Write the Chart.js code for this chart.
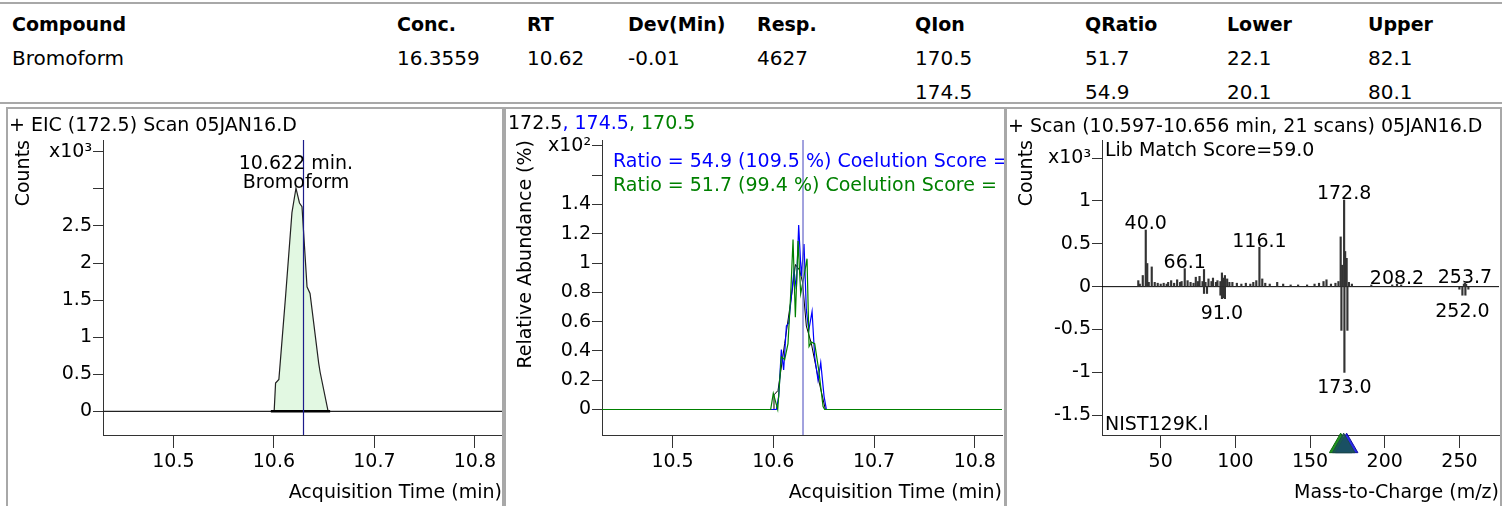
<!DOCTYPE html>
<html>
<head>
<meta charset="utf-8">
<script src="https://cdn.jsdelivr.net/npm/chart.js@4.4.1/dist/chart.umd.min.js"></script>
<style>
body{margin:0;width:1502px;height:506px;overflow:hidden;background:#fff;font-family:'DejaVu Sans',sans-serif;color:#000;position:relative}
.cell{position:absolute;font-size:20px;line-height:24px;white-space:nowrap}
.cell.h{font-weight:bold;font-size:19px}
.rule{position:absolute;left:0;width:1502px;height:2px;background:#a8a8a8}
.panel{position:absolute;top:107px;height:420px;border:2px solid #a8a8a8;border-bottom:none;box-sizing:border-box}
canvas{position:absolute;top:109px}
.ptitle{position:absolute;font-size:19px;line-height:22px;white-space:nowrap;z-index:2}
</style>
</head>
<body>
<div class="rule" style="top:2px"></div>
<div class="rule" style="top:102px"></div>
<div id="table"></div>

<div class="panel" style="left:6px;width:498px"></div>
<div class="panel" style="left:504px;width:502px"></div>
<div class="panel" style="left:1005px;width:497px"></div>

<div class="ptitle" style="left:9px;top:113px">+ EIC (172.5) Scan 05JAN16.D</div>
<div class="ptitle" style="left:508px;top:111px">172.5<span style="color:#0000ff">, 174.5</span><span style="color:#008000">, 170.5</span></div>
<div class="ptitle" style="left:1008px;top:114px">+ Scan (10.597-10.656 min, 21 scans) 05JAN16.D</div>

<canvas id="eic" width="494" height="397" style="left:8px"></canvas>
<canvas id="qual" width="498" height="397" style="left:506px"></canvas>
<canvas id="spec" width="492" height="397" style="left:1008px"></canvas>

<script>
//TABLE
const tableHeaders = ['Compound', 'Conc.', 'RT', 'Dev(Min)', 'Resp.', 'QIon', 'QRatio', 'Lower', 'Upper'];
const tableRow1 = ['Bromoform', '16.3559', '10.62', '-0.01', '4627', '170.5', '51.7', '22.1', '82.1'];
const tableRow2 = ['', '', '', '', '', '174.5', '54.9', '20.1', '80.1'];

//EIC 172.5 (counts x10^3)
const eicTime = [10.43, 10.597, 10.6003, 10.6017, 10.605, 10.6116, 10.618, 10.622, 10.6255, 10.628, 10.633, 10.636, 10.6446, 10.646, 10.654, 10.827];
const eicCounts = [0, 0, 0, 0.38, 0.43, 1.54, 2.68, 3.01, 2.81, 2.76, 1.68, 1.59, 0.65, 0.53, 0, 0];
const integrationStart = 10.597;
const integrationEnd = 10.656;
const rtMarker = 10.6295;
const compoundName = 'Bromoform';
const apexLabel = '10.622 min.';

//QUALIFIER IONS (relative abundance x10^2)
const time172 = [10.43, 10.6, 10.6007, 10.6047, 10.6113, 10.618, 10.622, 10.6262, 10.629, 10.6328, 10.6378, 10.6444, 10.6517, 10.827];
const abund172 = [0, 0, 0.1, 0.13, 0.45, 0.77, 0.99, 0.95, 0.87, 0.57, 0.45, 0.22, 0, 0];
const time174 = [10.43, 10.603, 10.6054, 10.608, 10.6103, 10.613, 10.6153, 10.6179, 10.6206, 10.6229, 10.6252, 10.6278, 10.6305, 10.6328, 10.6352, 10.6385, 10.6411, 10.6444, 10.6471, 10.6504, 10.6527, 10.827];
const abund174 = [0, 0, 0.09, 0.41, 0.27, 0.57, 0.59, 0.77, 0.95, 0.82, 1.26, 0.91, 1.13, 0.68, 0.54, 0.67, 0.36, 0.20, 0.32, 0.09, 0, 0];
const time170 = [10.43, 10.5974, 10.6, 10.6044, 10.608, 10.6113, 10.6146, 10.6173, 10.6196, 10.6219, 10.6246, 10.6272, 10.6305, 10.6335, 10.6355, 10.6378, 10.6411, 10.6451, 10.6494, 10.651, 10.827];
const abund170 = [0, 0, 0.11, 0, 0.36, 0.34, 0.45, 0.79, 1.16, 0.63, 1.15, 0.79, 0.91, 1.03, 0.43, 0.46, 0.45, 0.27, 0.02, 0, 0];
const ratio174 = 'Ratio = 54.9 (109.5 %) Coelution Score = 99.1';
const ratio170 = 'Ratio = 51.7 (99.4 %) Coelution Score = 98.7';

//SPECTRUM (counts x10^3), sample up, library down
const sampleMz = [35, 36, 38, 40, 41, 42, 44, 46, 48, 50, 52, 54, 55, 57, 59, 61, 63, 64, 66.1, 68, 70, 72, 73.5, 75, 76, 78, 79, 80, 82, 84, 85, 87, 88, 90, 91, 92, 93, 94.5, 96, 98, 101, 104, 107, 110, 112, 114, 116.1, 118, 120, 123, 128, 132, 137, 142, 148, 153, 156, 159, 161, 164, 167, 169, 170.5, 171.5, 172.8, 173.5, 174.5, 176, 178, 191, 205, 208.2, 211, 253, 253.7, 254.5];
const sampleCounts = [0.07, 0.03, 0.13, 0.66, 0.27, 0.05, 0.23, 0.05, 0.04, 0.03, 0.04, 0.03, 0.05, 0.07, 0.04, 0.08, 0.05, 0.06, 0.21, 0.07, 0.05, 0.04, 0.11, 0.06, 0.12, 0.06, 0.2, 0.05, 0.09, 0.06, 0.1, 0.05, 0.07, 0.06, 0.16, 0.1, 0.13, 0.09, 0.05, 0.05, 0.04, 0.03, 0.04, 0.03, 0.05, 0.07, 0.46, 0.09, 0.04, 0.03, 0.05, 0.03, 0.02, 0.02, 0.02, 0.03, 0.04, 0.06, 0.08, 0.03, 0.04, 0.06, 0.58, 0.25, 1.01, 0.41, 0.33, 0.05, 0.03, 0.02, 0.02, 0.03, 0.02, 0.03, 0.04, 0.03];
const libraryMz = [79, 81, 90, 91, 92, 93, 171, 173, 175, 250, 252, 254, 256];
const libraryCounts = [-0.08, -0.08, -0.1, -0.14, -0.13, -0.14, -0.51, -1.0, -0.51, -0.03, -0.1, -0.1, -0.03];
const peakLabelMz = [40.0, 66.1, 116.1, 172.8, 208.2, 253.7, 91.0, 173.0, 252.0];
const peakLabelCounts = [0.66, 0.21, 0.46, 1.01, 0.03, 0.04, -0.14, -1.0, -0.12];
const qualIons = [170.5, 174.5, 172.5];
const matchScore = 'Lib Match Score=59.0';
const libraryName = 'NIST129K.l';

//AXES
const timeTicks = [10.5, 10.6, 10.7, 10.8];
const timeTickLabels = ['10.5', '10.6', '10.7', '10.8'];
const eicTicks = [0, 0.5, 1, 1.5, 2, 2.5, 3, 3.5];
const eicTickLabels = ['0', '0.5', '1', '1.5', '2', '2.5', '', 'x10³'];
const qualTicks = [0, 0.2, 0.4, 0.6, 0.8, 1, 1.2, 1.4, 1.6, 1.8];
const qualTickLabels = ['0', '0.2', '0.4', '0.6', '0.8', '1', '1.2', '1.4', '', 'x10²'];
const mzTicks = [50, 100, 150, 200, 250];
const mzTickLabels = ['50', '100', '150', '200', '250'];
const specTicks = [-1.5, -1, -0.5, 0, 0.5, 1, 1.5];
const specTickLabels = ['-1.5', '-1', '-0.5', '0', '0.5', '1', 'x10³'];

Chart.defaults.font.family = "'DejaVu Sans', sans-serif";
Chart.defaults.font.size = 19;
Chart.defaults.color = '#000';
Chart.defaults.animation = false;

//BUILD THE TABLE
function buildTable() {
  const lefts = [12, 397, 527, 628, 757, 915, 1085, 1227, 1368];
  const rows = [[tableHeaders, 12, 'cell h'], [tableRow1, 46, 'cell'], [tableRow2, 80, 'cell']];
  let html = '';
  rows.forEach(([vals, top, cls]) => {
    vals.forEach((v, i) => {
      if (v) html += `<div class="${cls}" style="left:${lefts[i]}px;top:${top}px">${v}</div>`;
    });
  });
  document.getElementById('table').innerHTML = html;
}

function toPoints(xs, ys) {
  return xs.map((x, i) => ({x: x, y: ys[i]}));
}

function xAxis(min, max, ticks, labels, title) {
  return {
    type: 'linear', min: min, max: max, offset: false,
    afterBuildTicks: s => { s.ticks = ticks.map(v => ({value: v})); },
    afterFit: s => { s.height = 71; },
    ticks: {autoSkip: false, maxRotation: 0, padding: 3, callback: (v, i) => labels[i]},
    grid: {drawOnChartArea: false, drawTicks: true, tickLength: 13, color: '#333', offset: false},
    border: {display: true, color: '#333'},
    title: {display: true, text: title, align: 'end', padding: {top: 0, bottom: 2}}
  };
}

function yAxis(min, max, ticks, labels, title, width, titlePad) {
  return {
    type: 'linear', min: min, max: max,
    afterBuildTicks: s => { s.ticks = ticks.map(v => ({value: v})); },
    afterFit: s => { s.width = width; },
    ticks: {autoSkip: false, padding: 1, callback: (v, i) => labels[i]},
    grid: {drawOnChartArea: false, drawTicks: true, tickLength: 10, color: '#333'},
    border: {display: true, color: '#333'},
    title: {display: true, text: title, align: 'end', padding: {top: titlePad, bottom: 0}}
  };
}

const basePlugins = {legend: {display: false}, tooltip: {enabled: false}};
const xMin = 10.43, xMax = 10.827;

//EIC PANEL
function drawEic() {
  const yMin = -0.32, yMax = 3.66;
  const apexIdx = eicCounts.indexOf(Math.max(...eicCounts));
  const label = {
    id: 'eicLabel',
    afterDatasetsDraw(chart) {
      const {ctx, scales: {x, y}} = chart;
      const px = x.getPixelForValue(eicTime[apexIdx]);
      const py = y.getPixelForValue(eicCounts[apexIdx]);
      ctx.save();
      ctx.font = "19px 'DejaVu Sans'";
      ctx.fillStyle = '#000';
      ctx.textAlign = 'center';
      ctx.textBaseline = 'bottom';
      ctx.fillText(compoundName, px, py + 4);
      ctx.fillText(apexLabel, px, py - 15);
      ctx.restore();
    }
  };
  new Chart(document.getElementById('eic'), {
    type: 'line',
    data: {
      datasets: [
        {data: toPoints(eicTime, eicCounts), borderColor: '#222', borderWidth: 1.2, backgroundColor: '#e2f8e2', fill: 'origin', pointRadius: 0, order: 3},
        {data: [{x: integrationStart, y: 0}, {x: integrationEnd, y: 0}], borderColor: '#000', borderWidth: 2.5, pointRadius: 0, order: 2},
        {data: [{x: rtMarker, y: yMin}, {x: rtMarker, y: yMax}], borderColor: '#1c1c8a', borderWidth: 1.2, pointRadius: 0, order: 1}
      ]
    },
    options: {
      responsive: false,
      layout: {padding: {top: 31, left: 0, right: 0, bottom: 0}},
      scales: {
        x: xAxis(xMin, xMax, timeTicks, timeTickLabels, 'Acquisition Time (min)'),
        y: yAxis(yMin, yMax, eicTicks, eicTickLabels, 'Counts', 95, 5)
      },
      plugins: basePlugins
    },
    plugins: [label]
  });
}

//QUALIFIER PANEL
function drawQual() {
  const yMin = -0.174, yMax = 1.84;
  const ratioText = {
    id: 'ratioText',
    afterDatasetsDraw(chart) {
      const {ctx, chartArea} = chart;
      ctx.save();
      ctx.font = "19px 'DejaVu Sans'";
      ctx.textAlign = 'left';
      ctx.textBaseline = 'middle';
      ctx.fillStyle = '#0000ff';
      ctx.fillText(ratio174, chartArea.left + 11, chartArea.top + 22);
      ctx.fillStyle = '#008000';
      ctx.fillText(ratio170, chartArea.left + 11, chartArea.top + 46);
      ctx.restore();
    }
  };
  new Chart(document.getElementById('qual'), {
    type: 'line',
    data: {
      datasets: [
        {data: toPoints(time172, abund172), borderColor: '#000', borderWidth: 1, pointRadius: 0, order: 4},
        {data: toPoints(time174, abund174), borderColor: '#0000ff', borderWidth: 1.2, pointRadius: 0, order: 3},
        {data: toPoints(time170, abund170), borderColor: '#008000', borderWidth: 1.2, pointRadius: 0, order: 2},
        {data: [{x: rtMarker, y: yMin}, {x: rtMarker, y: yMax}], borderColor: '#6464c8', borderWidth: 1.2, pointRadius: 0, order: 1}
      ]
    },
    options: {
      responsive: false,
      layout: {padding: {top: 31, left: 0, right: 2, bottom: 0}},
      scales: {
        x: xAxis(xMin, xMax, timeTicks, timeTickLabels, 'Acquisition Time (min)'),
        y: yAxis(yMin, yMax, qualTicks, qualTickLabels, 'Relative Abundance (%)', 96, 9)
      },
      plugins: basePlugins
    },
    plugins: [ratioText]
  });
}

//SPECTRUM PANEL
function drawSpectrum() {
  const mzMin = 10.7, mzMax = 276.5;
  const yMin = -1.73, yMax = 1.71;
  const texts = {
    id: 'specText',
    afterDatasetsDraw(chart) {
      const {ctx, chartArea, scales: {x, y}} = chart;
      ctx.save();
      ctx.font = "19px 'DejaVu Sans'";
      ctx.fillStyle = '#000';
      ctx.textAlign = 'left';
      ctx.textBaseline = 'middle';
      ctx.fillText(matchScore, chartArea.left + 3, chartArea.top + 11);
      ctx.fillText(libraryName, chartArea.left + 3, chartArea.bottom - 10);
      ctx.textAlign = 'center';
      peakLabelMz.forEach((mz, i) => {
        const v = peakLabelCounts[i];
        const px = x.getPixelForValue(mz);
        const py = y.getPixelForValue(v);
        if (v > 0) {
          ctx.textBaseline = 'bottom';
          ctx.fillText(mz.toFixed(1), px, py + 4);
        } else {
          ctx.textBaseline = 'top';
          ctx.fillText(mz.toFixed(1), px, py + 6);
        }
      });
      ctx.restore();
    }
  };
  const markerColors = ['rgba(20,140,20,0.95)', 'rgba(30,30,235,0.95)', 'rgba(25,85,85,0.9)'];
  const markerBorders = ['#0a6a0a', '#1010a0', '#1a4a4a'];
  new Chart(document.getElementById('spec'), {
    type: 'bar',
    data: {
      datasets: [
        {type: 'line', data: [{x: mzMin, y: 0}, {x: mzMax, y: 0}], borderColor: '#000', borderWidth: 1, pointRadius: 0, order: 3},
        {data: toPoints(sampleMz, sampleCounts), backgroundColor: '#333', barThickness: 1.5, grouped: false, order: 2},
        {data: toPoints(libraryMz, libraryCounts), backgroundColor: '#333', barThickness: 1.5, grouped: false, order: 2},
        ...qualIons.map((mz, i) => ({
          type: 'line', showLine: false, clip: false,
          data: [{x: mz, y: yMin - 0.13}],
          pointStyle: 'triangle', pointRadius: 13, hoverRadius: 13,
          backgroundColor: markerColors[i], borderColor: markerBorders[i], borderWidth: 1,
          order: 1 - i
        }))
      ]
    },
    options: {
      responsive: false,
      layout: {autoPadding: false, padding: {top: 31, left: 0, right: 1, bottom: 0}},
      scales: {
        x: xAxis(mzMin, mzMax, mzTicks, mzTickLabels, 'Mass-to-Charge (m/z)'),
        y: yAxis(yMin, yMax, specTicks, specTickLabels, 'Counts', 94, 8)
      },
      plugins: basePlugins
    },
    plugins: [texts]
  });
}

document.addEventListener('DOMContentLoaded', () => {
  buildTable();
  drawEic();
  drawQual();
  drawSpectrum();
});
</script>
</body>
</html>
